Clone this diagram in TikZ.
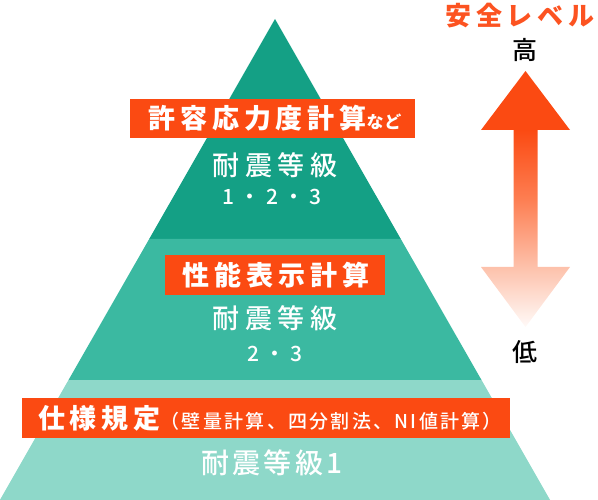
\documentclass[tikz,border=0pt]{standalone}
\usepackage{fontspec}
\setmainfont{Noto Sans CJK JP}
\newfontfamily\medfont{Noto Sans CJK JP Medium}
\definecolor{tealA}{HTML}{14A085}
\definecolor{tealB}{HTML}{3BB9A1}
\definecolor{tealC}{HTML}{8ED8C9}
\definecolor{orng}{HTML}{FB4A12}
\definecolor{lvlorng}{HTML}{FC5321}
\definecolor{fadeC}{HTML}{FD7E52}
\definecolor{fadeD}{HTML}{FDC2AC}
\definecolor{fadeE}{HTML}{FFFAF8}
\pgfdeclareverticalshading{arrowfade}{100bp}{color(0bp)=(fadeE); color(25bp)=(fadeE); color(36.5bp)=(fadeD); color(50bp)=(fadeC); color(63.5bp)=(orng); color(100bp)=(orng)}
\newcommand\fsz[2]{\fontsize{#1}{#1}\selectfont\addfontfeatures{LetterSpace=#2}}
\tikzset{
  tagbox/.style={fill=orng, inner sep=0pt},
  tagtext/.style={text=white, inner sep=0pt, font=\bfseries},
  gradetext/.style={text=white, inner sep=0pt, font=\medfont},
  sidetext/.style={inner sep=0pt},
}
\begin{document}
\begin{tikzpicture}[x=1pt,y=-1pt]
\useasboundingbox (0,0) rectangle (598,500);
% pyramid
\coordinate (apex) at (275,19);
\coordinate (l1) at (149.2,239); \coordinate (r1) at (400.8,239);
\coordinate (l2) at (68.5,380);  \coordinate (r2) at (481.5,380);
\coordinate (l3) at (-0.1,500);  \coordinate (r3) at (550.1,500);
\fill[tealA] (apex) -- (l1) -- (r1) -- cycle;
\fill[tealB] (l1) -- (l2) -- (r2) -- (r1) -- cycle;
\fill[tealC] (l2) -- (l3) -- (r3) -- (r2) -- cycle;
% top layer
\node[tagbox, minimum width=285, minimum height=39] (box1) at (272.5,118.5) {};
\node[tagtext] (tag1) at (275,118.5) {\fsz{27}{18}許容応力度計算\fsz{17}{4}など};
\node[gradetext] (g1a) at (275,165) {\fsz{27}{20}耐震等級};
\node[gradetext] (g1b) at (272,197) {\fsz{21}{25}1・2・3};
% middle layer
\node[tagbox, minimum width=220, minimum height=40] (box2) at (275,275) {};
\node[tagtext] (tag2) at (276,275) {\fsz{27}{18}性能表示計算};
\node[gradetext] (g2a) at (275,318) {\fsz{27}{20}耐震等級};
\node[gradetext] (g2b) at (275,354) {\fsz{21}{25}2・3};
% bottom layer
\node[tagbox, minimum width=488, minimum height=40] (box3) at (266,418) {};
\node[tagtext] (tag3) at (270,418) {\fsz{27}{18}仕様規定\mdseries\medfont\fsz{19}{12}（壁量計算、四分割法、NI値計算）};
\node[gradetext] (g3) at (272,463) {\fsz{28}{11}耐震等級1};
% safety level
\node[sidetext, text=lvlorng, font=\bfseries] (lvl) at (520,16) {\fsz{26}{18}安全レベル};
\node[sidetext, font=\medfont] (hi) at (525,50) {\fsz{25}{0}高};
\node[sidetext, font=\medfont] (lo) at (525,352) {\fsz{25}{0}低};
\shade[shading=arrowfade]
  (525.5,71) -- (570,130) -- (537.5,130) -- (537.5,267) -- (570,267) -- (525.5,327)
  -- (481,267) -- (513.5,267) -- (513.5,130) -- (481,130) -- cycle;
\end{tikzpicture}
\end{document}
